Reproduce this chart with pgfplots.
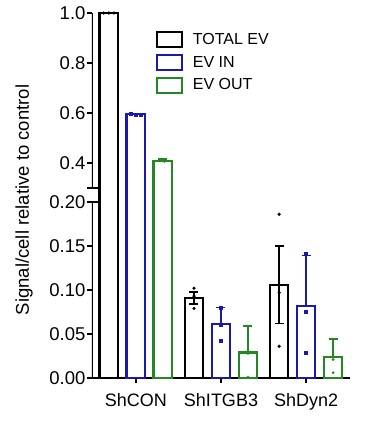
\documentclass[border=0pt]{standalone}
\usepackage{pgfplots}
\usepackage{pgfplotstable}
\pgfplotsset{compat=1.18}
\usepackage{fontspec}
\setmainfont{Liberation Sans}
\definecolor{cblue}{RGB}{25,25,175}
\definecolor{cgreen}{RGB}{35,135,35}

% bar means and SEM
\pgfplotstableread{
x y err
0 1.000 0.000
1 0.091 0.0066
2 0.106 0.044
}\totaldata
\pgfplotstableread{
x y err
0 0.595 0.003
1 0.061 0.019
2 0.082 0.057
}\indata
\pgfplotstableread{
x y err
0 0.409 0.006
1 0.029 0.030
2 0.0235 0.0205
}\outdata
% individual points (x = group position + bar offset)
\pgfplotstableread{
x y
-0.377 1.000
-0.317 1.000
-0.257 1.000
0.683 0.102
0.683 0.093
0.683 0.079
1.683 0.186
1.683 0.097
1.683 0.036
}\totalpts
\pgfplotstableread{
x y
-0.06 0.597
0.00 0.594
0.06 0.593
1.000 0.042
1.000 0.061
1.000 0.080
2.000 0.141
2.000 0.075
2.000 0.029
}\inpts
\pgfplotstableread{
x y
0.297 0.412
0.317 0.409
0.337 0.406
1.317 0.001
1.317 0.028
1.317 0.059
2.317 0.044
2.317 0.021
2.317 0.006
}\outpts

% broken y axis: 0..0.2 at full scale, gap, 0.3..1.0 compressed
\newcommand{\brk}[1]{(#1<=0.2 ? #1 : 0.215909+(#1-0.3)*0.284091)}
\newcommand{\errk}{(\thisrow{y}>0.25 ? 0.284091 : 1)}

\pgfplotsset{
  errstyle/.style 2 args={
    error bars/y explicit,
    error bars/y dir=#1,
    error bars/error bar style={line width=1.6pt, solid, #2},
    error bars/error mark options={rotate=90, mark size=4.5pt, line width=1.6pt, #2}},
}

\begin{document}
\begin{tikzpicture}
\useasboundingbox (-92pt,-43pt) rectangle (283pt,378pt);
\begin{axis}[
  scale only axis, width=258pt, height=369.6pt,
  xmin=-0.515, xmax=2.515, ymin=0, ymax=0.42,
  axis x line*=bottom, axis y line*=left,
  x axis line style={line width=1.8pt},
  y axis line style={draw=none},
  tick align=outside, major tick length=4.5pt,
  every tick/.style={black, line width=1.6pt},
  ticklabel style={font=\fontsize{18.5}{21}\selectfont},
  yticklabel style={xshift=1.5pt},
  ytick={0,0.05,0.1,0.15,0.2,0.215909,0.244318,0.301136,0.357955,0.414773},
  yticklabels={0.00,0.05,0.10,0.15,0.20,,0.4,0.6,0.8,1.0},
  xtick={0,1,2}, xticklabels={ShCON,ShITGB3,ShDyn2},
  xticklabel style={yshift=-7pt, font=\fontsize{18}{21}\selectfont},
  ybar, bar width=18.5pt,
  every axis plot/.append style={line width=2.2pt, fill=white},
  legend cell align=left,
  legend image code/.code={\draw[line width=2.2pt,#1,fill=white] (0pt,-7.5pt) rectangle (25pt,7.5pt);},
  legend style={draw=none, fill=none, at={(0.246,0.939)}, anchor=north west,
    font=\fontsize{16}{19}\selectfont, row sep=5.5pt, inner sep=0pt,
    /tikz/every odd column/.append style={column sep=8pt}},
]
\draw[line width=1.8pt] (axis cs:-0.515,0) -- (axis cs:-0.515,0.2);
\draw[line width=1.8pt] (axis cs:-0.515,0.215909) -- (axis cs:-0.515,0.414773);
\draw[line width=1.6pt] (axis cs:-0.515,0.2) -- ++(6pt,0pt);
\draw[line width=1.6pt] (axis cs:-0.515,0.215909) -- ++(6pt,0pt);
\addplot[draw=black, bar shift=-27pt, errstyle={both}{black}]
  table[x=x, y expr={\brk{\thisrow{y}}}, y error expr={\thisrow{err}*\errk}] {\totaldata};
\addplot[draw=cblue, bar shift=0pt, errstyle={plus}{cblue}]
  table[x=x, y expr={\brk{\thisrow{y}}}, y error expr={\thisrow{err}*\errk}] {\indata};
\addplot[draw=cgreen, bar shift=27pt, errstyle={plus}{cgreen}]
  table[x=x, y expr={\brk{\thisrow{y}}}, y error expr={\thisrow{err}*\errk}] {\outdata};
\addplot[only marks, mark=*, mark size=1.5pt, black, line width=0.3pt, fill=black, forget plot]
  table[x=x, y expr={\brk{\thisrow{y}}}] {\totalpts};
\addplot[only marks, mark=square*, mark size=1.5pt, cblue, line width=0.3pt, fill=cblue, forget plot]
  table[x=x, y expr={\brk{\thisrow{y}}}] {\inpts};
\addplot[only marks, mark=*, mark size=1.2pt, cgreen, line width=0.3pt, fill=cgreen, forget plot]
  table[x=x, y expr={\brk{\thisrow{y}}}] {\outpts};
\legend{TOTAL EV, EV IN, EV OUT}
\end{axis}
\node[rotate=90, font=\fontsize{18.5}{21}\selectfont] at (-68pt,178pt) {Signal/cell relative to control};
\end{tikzpicture}
\end{document}
